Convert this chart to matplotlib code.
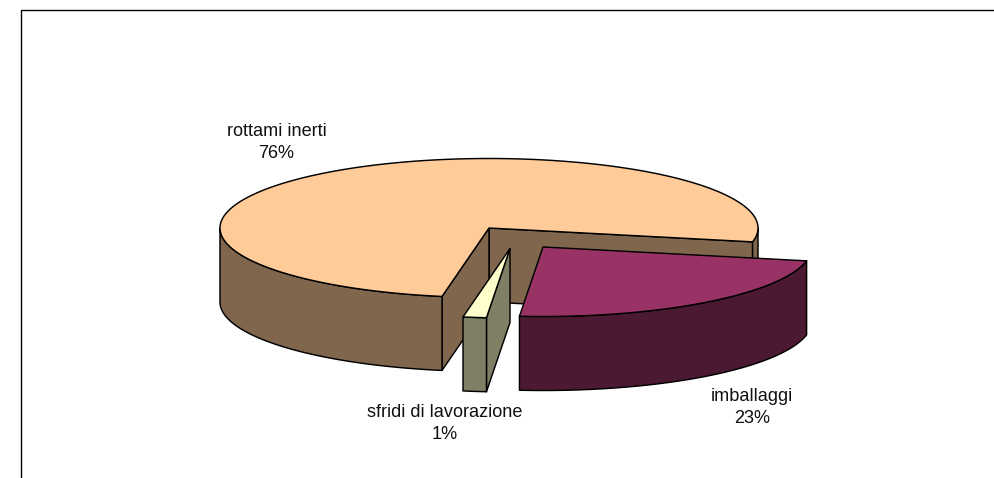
import numpy as np
import matplotlib
matplotlib.use("Agg")
import matplotlib.pyplot as plt
from matplotlib.patches import Polygon

categories = ["rottami inerti", "imballaggi", "sfridi di lavorazione"]
values = [75.4, 23.2, 1.4]
percent_labels = ["76%", "23%", "1%"]
top_colors = ["#FFCC99", "#993366", "#FFFFCC"]
side_colors = ["#7F664C", "#4C1933", "#7F7F66"]

W, H = 995, 478
fig = plt.figure(figsize=(W / 100, H / 100), dpi=100, facecolor="white")
ax = fig.add_axes([0, 0, 1, 1])
ax.set_xlim(0, W)
ax.set_ylim(H, 0)
ax.axis("off")
plt.rcParams["font.family"] = ["Liberation Sans", "DejaVu Sans"]

# pie geometry, in pixels; angles run clockwise on screen from east
RX, RY, DEPTH = 269, 69.5, 74
CENTER = np.array([489.0, 228.0])
OFFSETS = [np.array([0.0, 0.0]), np.array([54.0, 19.0]), np.array([21.0, 20.5])]
START = 11.5   # where "imballaggi" begins
LW = 1.05


def rim(t0, t1, c):
    t = np.radians(np.linspace(t0, t1, max(int(abs(t1 - t0) * 2), 2)))
    return np.column_stack([c[0] + RX * np.cos(t), c[1] + RY * np.sin(t)])


def poly(pts, color, z):
    ax.add_patch(Polygon(pts, closed=True, facecolor=color, edgecolor="black",
                         linewidth=LW, joinstyle="round", zorder=z))


def outer_wall(t0, t1, c, color, z):
    top = rim(t0, t1, c)
    poly(np.vstack([top, (top + [0, DEPTH])[::-1]]), color, z)


def cut_wall(t, c, color, z):
    p = rim(t, t, c)[0]
    poly([c, p, p + [0, DEPTH], c + [0, DEPTH]], color, z)


def top_face(t0, t1, c, color, z):
    poly(np.vstack([[c], rim(t0, t1, c)]), color, z)


fractions = np.array(values) / sum(values) * 360
# clockwise order on screen: imballaggi, sfridi, rottami
a1_start, a1_end = START, START + fractions[1]
a2_start, a2_end = a1_end, a1_end + fractions[2]
a0_start, a0_end = a2_end, a2_end + fractions[0]

# rottami inerti
c = CENTER + OFFSETS[0]
cut_wall(a0_end - 360, c, side_colors[0], 1)
cut_wall(a0_start, c, side_colors[0], 1.1)
outer_wall(a0_start, 180, c, side_colors[0], 1.2)
outer_wall(0, a0_end - 360, c, side_colors[0], 1.2)
top_face(a0_start, a0_end, c, top_colors[0], 1.3)

# sfridi di lavorazione
c = CENTER + OFFSETS[2]
cut_wall(a2_start, c, side_colors[2], 2)
outer_wall(a2_start, a2_end, c, side_colors[2], 2.1)
top_face(a2_start, a2_end, c, top_colors[2], 2.2)

# imballaggi
c = CENTER + OFFSETS[1]
outer_wall(a1_start, a1_end, c, side_colors[1], 3)
top_face(a1_start, a1_end, c, top_colors[1], 3.1)

# chart frame
ax.plot([21, 21, W], [H, 10, 10], color="black", lw=1.0, zorder=0,
        solid_joinstyle="miter", clip_on=False)

label_pos = [(276.5, 136), (752, 401), (445, 417)]
LINE_GAP = 22
for name, pct, (x, y) in zip(categories, percent_labels, label_pos):
    ax.text(x, y, name, ha="center", va="baseline", fontsize=13.1, color="#111111", zorder=5)
    ax.text(x, y + LINE_GAP, pct, ha="center", va="baseline", fontsize=13.1, color="#111111", zorder=5)

fig.savefig("out.png", dpi=100)
